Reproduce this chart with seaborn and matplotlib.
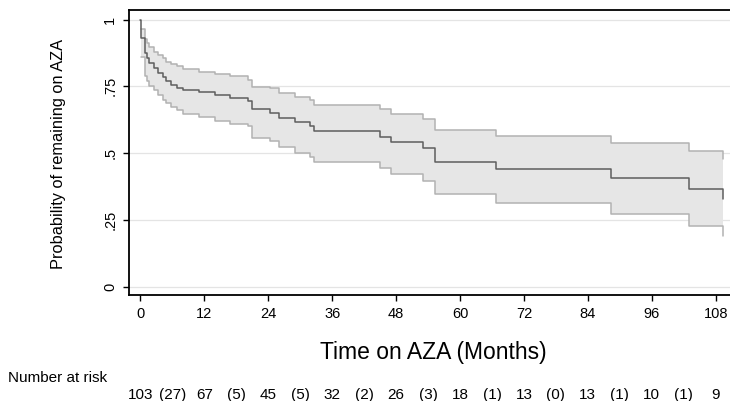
import numpy as np
import matplotlib
matplotlib.use('Agg')
import matplotlib.pyplot as plt
import matplotlib.transforms as mtransforms
import seaborn as sns

# Kaplan-Meier estimate (value after each step)
times = [0, 0.2, 0.9, 1.3, 1.7, 2.6, 3.3, 4.2, 4.8, 5.8, 6.8, 8.0, 11.0, 14.1,
         16.8, 20.2, 21.0, 24.4, 26.1, 29.0, 31.8, 32.6, 44.9, 47.0, 53.1,
         55.4, 66.8, 88.4, 102.9, 109.3]
surv = [1.0, 0.930, 0.875, 0.856, 0.837, 0.819, 0.800, 0.784, 0.769, 0.754,
        0.745, 0.738, 0.729, 0.718, 0.707, 0.695, 0.665, 0.651, 0.632, 0.615,
        0.601, 0.582, 0.562, 0.541, 0.520, 0.467, 0.442, 0.408, 0.366, 0.330]
upper = [np.nan, 0.966, 0.927, 0.912, 0.896, 0.880, 0.868, 0.855, 0.842, 0.834,
         0.826, 0.815, 0.805, 0.796, 0.790, 0.775, 0.749, 0.742, 0.725, 0.709,
         0.697, 0.681, 0.664, 0.648, 0.627, 0.587, 0.565, 0.537, 0.508, 0.479]
lower = [np.nan, 0.858, 0.790, 0.769, 0.750, 0.735, 0.719, 0.700, 0.688, 0.672,
         0.660, 0.647, 0.636, 0.622, 0.610, 0.600, 0.558, 0.545, 0.522, 0.500,
         0.485, 0.466, 0.444, 0.423, 0.396, 0.346, 0.313, 0.274, 0.228, 0.189]

xticks = [0, 12, 24, 36, 48, 60, 72, 84, 96, 108]
yticks = [0, 0.25, 0.5, 0.75, 1]
ytick_labels = ['0', '.25', '.5', '.75', '1']

at_risk = [103, 67, 45, 32, 26, 18, 13, 13, 10, 9]
censored = [27, 5, 5, 2, 3, 1, 0, 1, 1]

sns.set_style('white')
plt.rcParams['font.family'] = ['Liberation Sans', 'DejaVu Sans']
plt.rcParams.update({'text.color': 'black', 'axes.labelcolor': 'black',
                     'xtick.color': 'black', 'ytick.color': 'black'})

fig = plt.figure(figsize=(7.3, 4.01), dpi=100)
ax = fig.add_axes([129 / 730, 106 / 401, 601 / 730, 285 / 401])

# grid first so it sits under the band
for y in yticks:
    ax.axhline(y, color='#e4e4e4', lw=0.9, zorder=0)

ax.fill_between(times[1:], lower[1:], upper[1:], step='post',
                color='#e6e6e6', lw=0, zorder=1)
sns.lineplot(x=times[1:], y=upper[1:], drawstyle='steps-post', ax=ax,
             color='#b2b2b2', lw=1.1, zorder=2)
sns.lineplot(x=times[1:], y=lower[1:], drawstyle='steps-post', ax=ax,
             color='#b2b2b2', lw=1.1, zorder=2)
sns.lineplot(x=times, y=surv, drawstyle='steps-post', ax=ax,
             color='#5e5e5e', lw=1.1, zorder=3)

ax.set_xlim(-2.12, 110.68)
ax.set_ylim(-0.031, 1.0356)

ax.set_xticks(xticks)
ax.set_xticklabels([str(t) for t in xticks], fontsize=10.5)
ax.set_yticks(yticks)
ax.set_yticklabels(ytick_labels, fontsize=10.5, rotation=90, va='center')
ax.tick_params(axis='both', direction='out', length=4.5, width=1,
               color='black', labelcolor='black', bottom=True, left=True)
ax.tick_params(axis='x', pad=4.5)
ax.tick_params(axis='y', pad=4)

for side in ['left', 'bottom', 'top']:
    ax.spines[side].set_color('black')
    ax.spines[side].set_linewidth(1.3)
ax.spines['right'].set_visible(False)

ax.set_ylabel('Probability of remaining on AZA', fontsize=11.8, color='black')
ax.yaxis.label.set_va('center')
ax.yaxis.set_label_coords(-0.118, 0.495)
ax.set_xlabel('Time on AZA (Months)', fontsize=16.5, color='black')
ax.xaxis.label.set_va('center')
ax.xaxis.set_label_coords(0.5067, -0.2035)

# number at risk table below the axis
trans = mtransforms.blended_transform_factory(ax.transData, fig.transFigure)
fig.text(8 / 730, 1 - 378 / 401, 'Number at risk', fontsize=11,
         ha='left', va='center', color='black')
for t, n in zip(xticks, at_risk):
    ax.text(t, 1 - 395 / 401, str(n), transform=trans, fontsize=11,
            ha='center', va='center', clip_on=False, color='black')
for t, c in zip(xticks[:-1], censored):
    ax.text(t + 6, 1 - 395 / 401, f'({c})', transform=trans, fontsize=11,
            ha='center', va='center', clip_on=False, color='black')

fig.savefig('out.png', dpi=100)
